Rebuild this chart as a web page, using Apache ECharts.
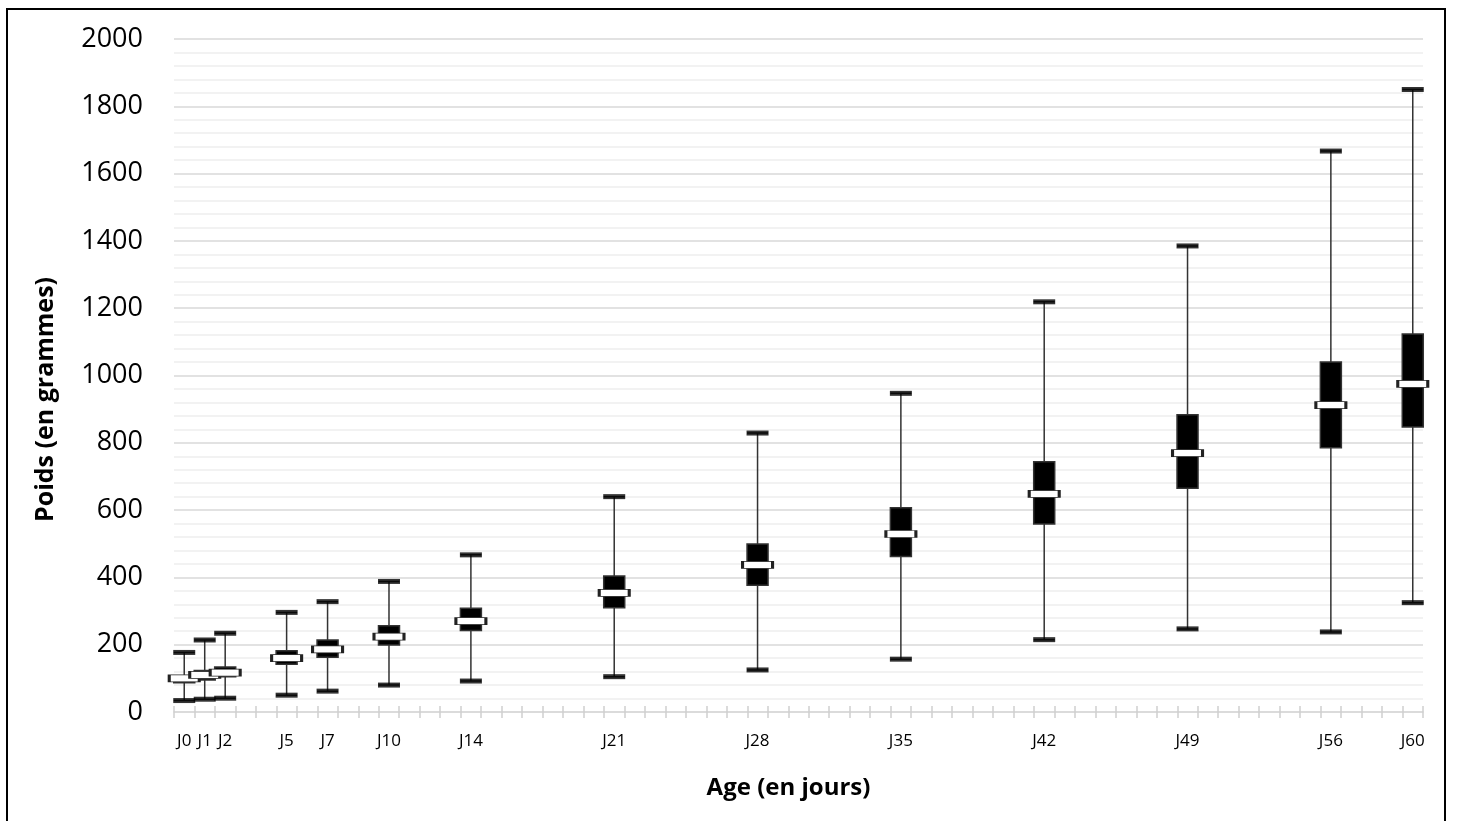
<!DOCTYPE html>
<html>
<head>
<meta charset="utf-8">
<script src="https://cdn.jsdelivr.net/npm/echarts@6/dist/echarts.min.js"></script>
<style>
  html, body { margin: 0; padding: 0; background: #fff; }
  #chart { width: 1457px; height: 821px; position: relative; }
  #frame {
    position: absolute; left: 6px; top: 8px; width: 1440px; height: 840px;
    border: 2px solid #000; box-sizing: border-box; pointer-events: none;
  }
</style>
</head>
<body>
<div id="chart"></div>
<div id="frame"></div>
<script>
  // jours mesures
  const days = [0, 1, 2, 5, 7, 10, 14, 21, 28, 35, 42, 49, 56, 60];
  // poids (g)
  const mins = [34, 38, 41, 50, 62, 80, 92, 105, 125, 157, 215, 247, 238, 325];
  const q1s = [87, 95, 105, 142, 163, 199, 242, 310, 377, 462, 559, 665, 785, 847];
  const medians = [100, 110, 117, 160, 186, 224, 270, 354, 437, 529, 648, 769, 912, 975];
  const q3s = [108, 123, 134, 182, 214, 256, 308, 404, 499, 607, 744, 883, 1040, 1123];
  const maxs = [177, 214, 234, 296, 328, 388, 467, 640, 829, 947, 1219, 1385, 1667, 1850];

  const lastDay = 60;
  const categories = [];
  for (let d = 0; d <= lastDay; d++) categories.push("J" + d);
  const labelDays = days.map(d => "J" + d);

  const font = "Open Sans";
  const boxData = days.map((d, i) => ["J" + d, mins[i], q1s[i], medians[i], q3s[i], maxs[i]]);
  const medianData = days.map((d, i) => ["J" + d, medians[i]]);
  const capData = days.map((d, i) => ["J" + d, mins[i]])
    .concat(days.map((d, i) => ["J" + d, maxs[i]]));

  const chart = echarts.init(document.getElementById("chart"));
  chart.setOption({
    animation: false,
    grid: { left: 174, right: 34, top: 39, bottom: 109 },
    xAxis: [
      {
        type: "category",
        data: categories,
        boundaryGap: true,
        name: "Age (en jours)",
        nameLocation: "middle",
        nameGap: 64,
        nameTextStyle: { fontFamily: font, fontWeight: "bold", fontSize: 24, color: "#000", padding: [0, 20, 0, 0] },
        axisLine: { lineStyle: { color: "#d9d9d9", width: 1.5 } },
        axisTick: { show: true, interval: 0, length: 6, lineStyle: { color: "#d0d0d0", width: 1.5 } },
        axisLabel: {
          interval: (idx, val) => labelDays.includes(val),
          margin: 21,
          fontFamily: font,
          fontSize: 17,
          color: "#000"
        },
        splitLine: { show: false }
      },
      {
        type: "category",
        data: categories,
        position: "bottom",
        boundaryGap: true,
        axisLine: { show: false },
        axisTick: { show: true, inside: true, interval: 0, length: 6, lineStyle: { color: "#d0d0d0", width: 1.5 } },
        axisLabel: { show: false },
        splitLine: { show: false }
      }
    ],
    yAxis: {
      type: "value",
      min: 0,
      max: 2000,
      interval: 200,
      name: "Poids (en grammes)",
      nameLocation: "middle",
      nameGap: 116,
      nameTextStyle: { fontFamily: font, fontWeight: "bold", fontSize: 25, color: "#000", padding: [0, 48, 0, 0] },
      axisLine: { show: false },
      axisTick: { show: false },
      axisLabel: { margin: 31, fontFamily: font, fontSize: 27, color: "#000", formatter: v => String(v) },
      splitLine: { lineStyle: { color: "#d9d9d9", width: 1.5 } },
      minorTick: { show: false, splitNumber: 5 },
      minorSplitLine: { show: true, lineStyle: { color: "#eeeeee", width: 1.5 } }
    },
    series: [
      {
        type: "boxplot",
        data: boxData,
        encode: { x: 0, y: [1, 2, 3, 4, 5] },
        boxWidth: [21, 21],
        itemStyle: { color: "#000", borderColor: "#333", borderWidth: 1.5 },
        z: 2
      },
      {
        type: "scatter",
        data: capData,
        symbol: "rect",
        symbolSize: [22, 5],
        itemStyle: { color: "#000" },
        z: 3
      },
      {
        type: "scatter",
        data: medianData,
        symbol: "rect",
        symbolSize: [30, 7],
        itemStyle: { color: "#fff", borderColor: "#222", borderWidth: 1.5, opacity: 1 },
        z: 4
      }
    ]
  });
</script>
</body>
</html>
